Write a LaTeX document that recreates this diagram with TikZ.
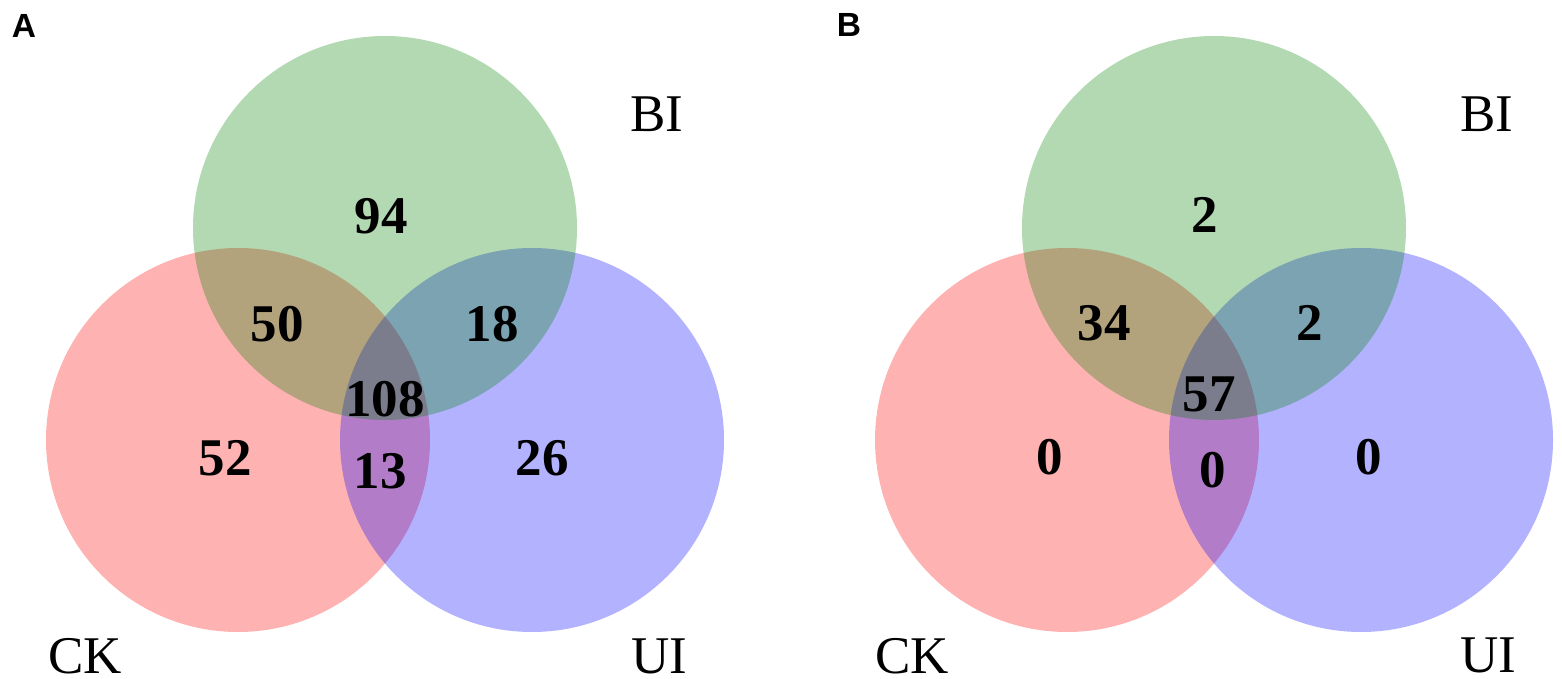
\documentclass[tikz,border=0pt]{standalone}
\usepackage{fontspec}
\setmainfont{Liberation Serif}
\newfontfamily\labfont{Liberation Sans}
\definecolor{vred}{RGB}{255,0,0}
\definecolor{vgreen}{RGB}{0,128,0}
\definecolor{vblue}{RGB}{0,0,255}
\begin{document}
\begin{tikzpicture}[x=0.5pt,y=-0.5pt,
  setfill/.style={fill=#1, fill opacity=0.3, draw=none},
  num/.style={font=\fontsize{26.5}{30}\selectfont\bfseries, anchor=base, inner sep=0pt},
  setlab/.style={font=\fontsize{26.5}{30}\selectfont, anchor=base, inner sep=0pt},
  panel/.style={font=\labfont\fontsize{16.75}{20}\selectfont\bfseries, anchor=base, inner sep=0pt}]
\useasboundingbox (0,0) rectangle (1562,679);
% ---------- Panel A ----------
\fill[setfill=vred] (238,440) circle[radius=96pt];
\fill[setfill=vblue] (532,440) circle[radius=96pt];
\fill[setfill=vgreen] (385,228) circle[radius=96pt];
\node[panel] (pA) at (24,38) {A};
\node[setlab] (aBI) at (657,132) {BI};
\node[setlab] (aCK) at (85,673) {CK};
\node[setlab] (aUI) at (659,673) {UI};
\node[num] (a94) at (381,234) {94};
\node[num] (a50) at (277,341) {50};
\node[num] (a18) at (492,341) {18};
\node[num] (a108) at (385,416) {108};
\node[num] (a52) at (225,475) {52};
\node[num] (a13) at (380,488) {13};
\node[num] (a26) at (542,475) {26};
% ---------- Panel B ----------
\begin{scope}[shift={(829,0)}]
\fill[setfill=vred] (238,440) circle[radius=96pt];
\fill[setfill=vblue] (532,440) circle[radius=96pt];
\fill[setfill=vgreen] (385,228) circle[radius=96pt];
\end{scope}
\node[panel] (pB) at (849,37) {B};
\node[setlab] (bBI) at (1487,132) {BI};
\node[setlab] (bCK) at (912,673) {CK};
\node[setlab] (bUI) at (1488,672) {UI};
\node[num] (b2a) at (1205,233) {2};
\node[num] (b34) at (1104,340) {34};
\node[num] (b2b) at (1310,340) {2};
\node[num] (b57) at (1209,411) {57};
\node[num] (b0a) at (1050,474) {0};
\node[num] (b0b) at (1213,487) {0};
\node[num] (b0c) at (1369,474) {0};
\end{tikzpicture}
\end{document}
